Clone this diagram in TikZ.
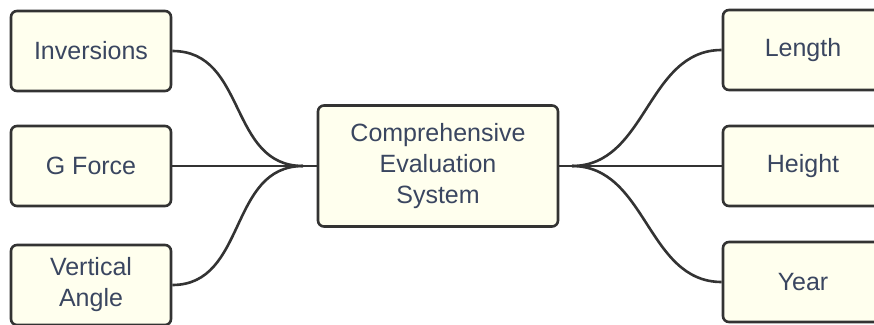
\documentclass[tikz,border=0pt]{standalone}
\usepackage{fontspec}
\setmainfont{Liberation Sans}
\usetikzlibrary{positioning}
\definecolor{cbox}{HTML}{FFFFEE}
\definecolor{cline}{HTML}{333333}
\definecolor{ctext}{HTML}{3A4660}
\tikzset{
  every picture/.style={x=1pt, y=-1pt},
  item/.style={draw=cline, fill=cbox, rounded corners=6pt, line width=2.6pt, text=ctext, align=center,
    minimum width=160pt, minimum height=80pt, font=\fontsize{25}{31}\selectfont},
  link/.style={draw=cline, line width=2.6pt},
}
\begin{document}
\begin{tikzpicture}
  \useasboundingbox (0,0) rectangle (874,324);
  % centre box and the two junction points
  \node[item, minimum width=240pt, minimum height=121pt] (sys) at (438,166) {Comprehensive\\Evaluation\\System};
  \coordinate (jl) at (303,166);
  \coordinate (jr) at (572,166);
  % left criteria
  \node[item] (inv) at (91,51) {Inversions};
  \node[item] (gf) at (91,166) {G Force};
  \node[item] (va) at (91,285) {Vertical\\Angle};
  % right criteria
  \node[item] (len) at (803,50) {Length};
  \node[item] (hgt) at (803,166) {Height};
  \node[item] (yr) at (803,282) {Year};
  \draw[link] (jl) -- (sys.west);
  \draw[link] (sys.east) -- (jr);
  \foreach \n in {inv,va} \draw[link] (\n.east) .. controls +(75,0) and +(-75,0) .. (jl);
  \draw[link] (gf.east) -- (jl);
  \foreach \n in {len,yr} \draw[link] (jr) .. controls +(75,0) and +(-75,0) .. (\n.west);
  \draw[link] (jr) -- (hgt.west);
\end{tikzpicture}
\end{document}
